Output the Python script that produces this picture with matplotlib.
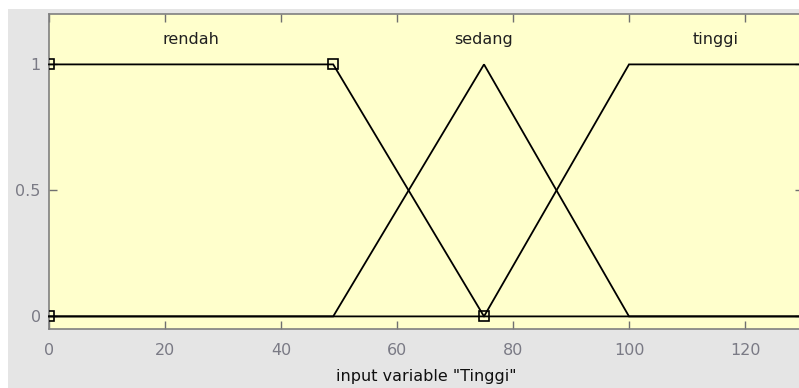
import numpy as np
import matplotlib.pyplot as plt
from matplotlib.patches import Rectangle

# membership functions of input variable "Tinggi"
x_range = [0, 130]
mf_names = ['rendah', 'sedang', 'tinggi']
mf_types = ['trapmf', 'trimf', 'trapmf']
mf_params = [[0, 0, 49, 75], [49, 75, 100], [75, 100, 130, 130]]
selected = 0  # index of the highlighted MF (drawn with square handles)

x_ticks = [0, 20, 40, 60, 80, 100, 120]
y_ticks = [0, 0.5, 1]
y_tick_labels = ['0', '0.5', '1']
x_label = 'input variable "Tinggi"'


def mf_eval(kind, p, x):
    if kind == 'trimf':
        p = [p[0], p[1], p[1], p[2]]
    a, b, c, d = p
    left = 1.0 if x >= b else (x - a) / (b - a) if b > a else 0.0
    right = 1.0 if x <= c else (d - x) / (d - c) if d > c else 0.0
    return max(min(left, right, 1.0), 0.0)


def mf_points(kind, p):
    # evaluate at the break points that lie inside the range
    xs = sorted(set([x_range[0], x_range[1]] + [v for v in p if x_range[0] <= v <= x_range[1]]))
    return xs, [mf_eval(kind, p, x) for x in xs]


fig = plt.figure(figsize=(7.99, 3.88), dpi=100, facecolor='white')
fig.patches.append(Rectangle((8 / 799, 0), 1, 1 - 9 / 388, transform=fig.transFigure,
                             facecolor='#e5e5e5', edgecolor='none', zorder=-10))

ax = fig.add_axes([49 / 799, 59 / 388, 754 / 799, 315 / 388])
ax.set_facecolor('#ffffcc')

for i, (name, kind, p) in enumerate(zip(mf_names, mf_types, mf_params)):
    xs, ys = mf_points(kind, p)
    ax.plot(xs, ys, color='black', lw=1.3, solid_joinstyle='miter', clip_on=False, zorder=3)
    # label above the plateau of each MF
    top = [x for x, y in zip(xs, ys) if y == 1]
    ax.text((min(top) + max(top)) / 2, 1.1, name, ha='center', va='center',
            fontsize=11.5, color='#202020')
    if i == selected:
        hx = list(p) if kind == 'trapmf' else [p[0], p[1], p[2]]
        hy = [0, 1, 1, 0] if kind == 'trapmf' else [0, 1, 0]
        ax.plot(hx, hy, ls='none', marker='s', ms=7.5, mfc='none', mec='black',
                mew=1.2, clip_on=True, zorder=4)

ax.set_xlim(x_range)
ax.set_ylim(-0.05, 1.2)
ax.set_xticks(x_ticks)
ax.set_yticks(y_ticks)
ax.set_yticklabels(y_tick_labels)
ax.tick_params(direction='in', length=6, width=1, color='#707070', labelcolor='#7a7a85',
               labelsize=11.5, top=True, right=True)
ax.tick_params(axis='x', pad=10)
ax.tick_params(axis='y', pad=6)
for s in ax.spines.values():
    s.set_color('#808080')
    s.set_linewidth(1.2)
ax.set_xlabel(x_label, fontsize=11.5, color='#101010', labelpad=8)

fig.savefig('out.png', dpi=100)
